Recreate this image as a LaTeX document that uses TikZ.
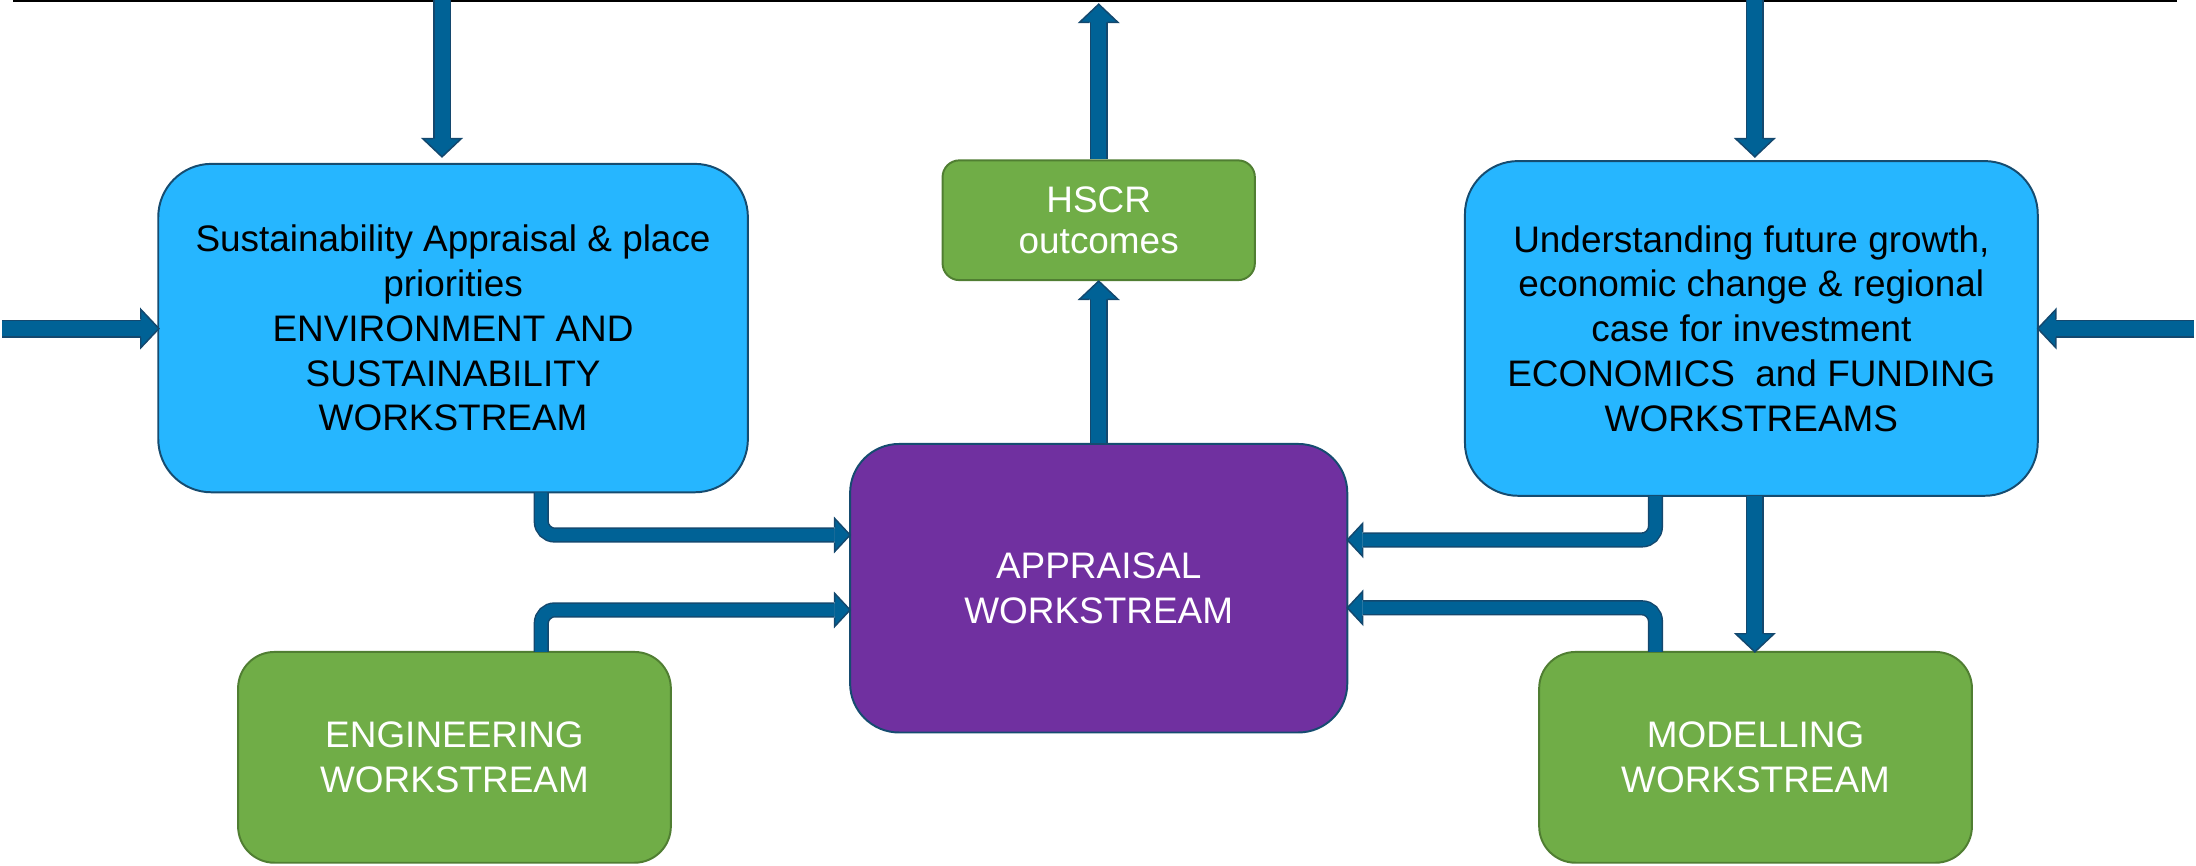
\documentclass[tikz,border=0pt]{standalone}
\usepackage{fontspec}
\setmainfont{Liberation Sans}
\usetikzlibrary{calc}
\definecolor{boxblue}{RGB}{38,182,255}
\definecolor{edgeblue}{RGB}{22,76,112}
\definecolor{boxgreen}{RGB}{112,173,71}
\definecolor{edgegreen}{RGB}{80,126,50}
\definecolor{boxpurple}{RGB}{112,48,160}
\definecolor{arrfill}{RGB}{0,98,150}
\definecolor{arredge}{RGB}{20,72,110}
\tikzset{
  base/.style={rectangle, align=center, inner sep=0pt, line width=0.8pt,
    font=\fontsize{15}{18.2}\selectfont},
  bluebox/.style={base, fill=boxblue, draw=edgeblue, text=black, rounded corners=7.6mm},
  greenbox/.style={base, fill=boxgreen, draw=edgegreen, text=white},
  purplebox/.style={base, fill=boxpurple, draw=edgeblue, text=white, rounded corners=7mm},
  shaft/.style={draw=arredge, line width=0.6pt, double=arrfill, double distance=6.1pt},
  eshaft/.style={draw=arredge, line width=0.6pt, double=arrfill, double distance=5pt, rounded corners=1.9mm},
  headst/.style={fill=arrfill, draw=arredge, line width=0.6pt, line join=miter},
}
\newcommand\bighead[2]{\path[headst, shift={(#1)}, rotate=#2] (-13,6.45) -- (-13,13.75) -- (0,0) -- (-13,-13.75) -- (-13,-6.45);}
\newcommand\smallhead[2]{\path[headst, shift={(#1)}, rotate=#2] (-11,5.5) -- (-11,11.8) -- (0,0) -- (-11,-11.8) -- (-11,-5.5);}
\begin{document}
\begin{tikzpicture}[x=0.2mm, y=0.2mm]
\useasboundingbox (0,0) rectangle (1568,-618);
% top line
\coordinate (tl) at (9.3,-0.8);
\coordinate (tr) at (1554.5,-0.8);
\draw[line width=0.8pt, black] (tl) -- (tr);

% boxes
\node[bluebox, minimum width=84.2mm, minimum height=46.9mm] (env) at (323.5,-234.25)
  {Sustainability Appraisal \& place\\priorities\\ENVIRONMENT AND\\SUSTAINABILITY\\WORKSTREAM};
\node[bluebox, minimum width=81.8mm, minimum height=47.8mm] (econ) at (1250.5,-234.5)
  {Understanding future growth,\\economic change \& regional\\case for investment\\ECONOMICS~ and FUNDING\\WORKSTREAMS};
\node[greenbox, rounded corners=2.4mm, minimum width=44.6mm, minimum height=17.1mm,
  font=\fontsize{15}{17}\selectfont] (hscr) at (784.5,-157.25) {HSCR\\outcomes};
\node[purplebox, minimum width=71mm, minimum height=41.2mm] (appr) at (784.5,-420)
  {APPRAISAL\\WORKSTREAM};
\node[greenbox, rounded corners=5.2mm, minimum width=61.8mm, minimum height=30.1mm] (eng) at (324.5,-540.75)
  {ENGINEERING\\WORKSTREAM};
\node[greenbox, rounded corners=5.2mm, minimum width=61.8mm, minimum height=30.1mm] (mod) at (1253.5,-540.75)
  {MODELLING\\WORKSTREAM};

% arrow coordinates
\coordinate (a1s) at (315.6,0);
\coordinate (a1t) at (315.6,-112);
\coordinate (a2s) at (1.5,-234.6);
\coordinate (a2t) at (113.5,-234.6);
\coordinate (a3t) at (784.5,-3);
\coordinate (a5s) at (1253,0);
\coordinate (a5t) at (1253,-112);
\coordinate (a6s) at (1566.6,-234.6);
\coordinate (a6t) at (1455,-234.6);
\coordinate (a7s) at (1253,-354);
\coordinate (a7t) at (1253,-465.5);
\coordinate (e1s) at (386.5,-351.5);
\coordinate (e1t) at (607,-382);
\coordinate (e2s) at (386.5,-465.5);
\coordinate (e2t) at (607,-435.5);
\coordinate (e3s) at (1182,-354);
\coordinate (e3t) at (962,-385.5);
\coordinate (e4s) at (1182,-465.5);
\coordinate (e4t) at (962,-434);

% straight arrows
\draw[shaft] (a1s) -- ($(a1t)+(0,13)$);  \bighead{a1t}{-90}
\draw[shaft] (a2s) -- ($(a2t)+(-13,0)$); \bighead{a2t}{0}
\draw[shaft] (hscr.north) -- ($(a3t)+(0,-13)$); \bighead{a3t}{90}
\draw[shaft] (appr.north) -- ($(hscr.south)+(0,-13)$); \bighead{hscr.south}{90}
\draw[shaft] (a5s) -- ($(a5t)+(0,13)$);  \bighead{a5t}{-90}
\draw[shaft] (a6s) -- ($(a6t)+(13,0)$);  \bighead{a6t}{180}
\draw[shaft] (a7s) -- ($(a7t)+(0,13)$); \bighead{a7t}{-90}

% elbow arrows
\draw[eshaft] (e1s) |- ($(e1t)+(-11,0)$); \smallhead{e1t}{0}
\draw[eshaft] (e2s) |- ($(e2t)+(-11,0)$); \smallhead{e2t}{0}
\draw[eshaft] (e3s) |- ($(e3t)+(11,0)$);  \smallhead{e3t}{180}
\draw[eshaft] (e4s) |- ($(e4t)+(11,0)$);  \smallhead{e4t}{180}
\end{tikzpicture}
\end{document}
